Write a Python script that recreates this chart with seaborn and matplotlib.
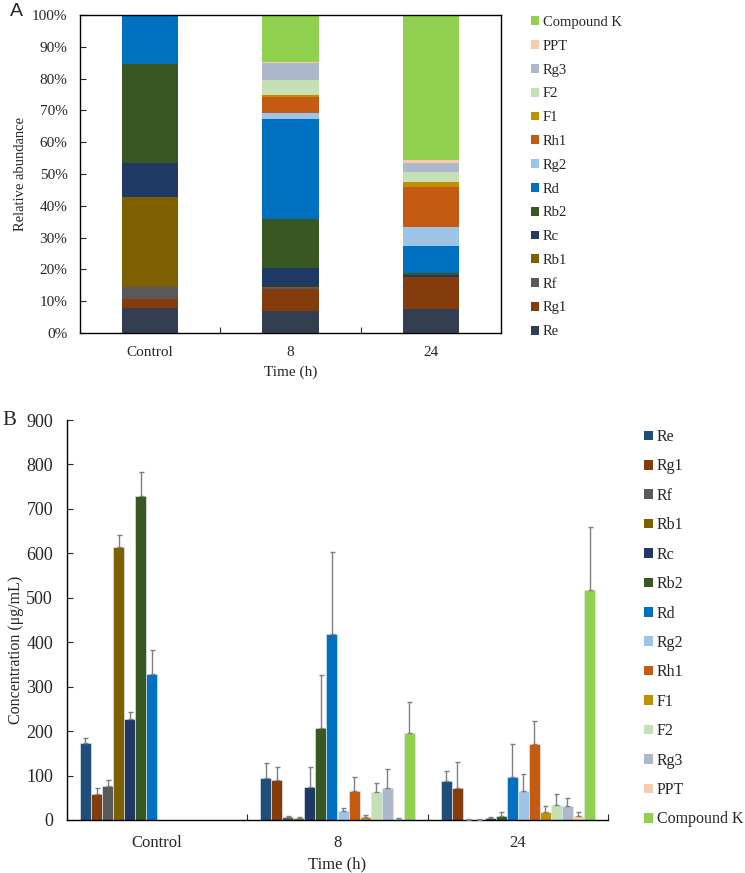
import numpy as np
import pandas as pd
import matplotlib
matplotlib.use("Agg")
import matplotlib.pyplot as plt
import seaborn as sns
from matplotlib.patches import Patch

# ---------------- data ----------------
times = ["Control", "8", "24"]
compounds = ["Re", "Rg1", "Rf", "Rb1", "Rc", "Rb2", "Rd", "Rg2", "Rh1",
             "F1", "F2", "Rg3", "PPT", "Compound K"]

# Panel A: relative abundance (%)
abund_control = [7.9, 2.9, 3.6, 28.5, 10.6, 31.2, 15.3, 0, 0, 0, 0, 0, 0, 0]
abund_8h = [7.0, 6.8, 0.4, 0.3, 5.8, 15.7, 31.3, 1.8, 5.0, 0.6, 4.8, 5.5, 0.2, 14.8]
abund_24h = [7.5, 10.0, 0.1, 0.1, 0.5, 0.8, 8.4, 5.8, 12.6, 1.7, 3.1, 2.8, 1.1, 45.5]

# Panel B: concentration (ug/mL) and SD
conc_control = [174, 59, 77, 614, 227, 729, 328, 0, 0, 0, 0, 0, 0, 0]
err_control = [11, 12, 13, 27, 17, 55, 54, 0, 0, 0, 0, 0, 0, 0]
conc_8h = [95, 90, 6, 4, 75, 208, 418, 20, 65, 7, 64, 71, 3, 195]
err_8h = [33, 30, 3, 2, 45, 118, 184, 8, 31, 4, 19, 43, 1, 70]
conc_24h = [87, 71, 1, 1, 4, 9, 96, 65, 171, 19, 34, 32, 9, 517]
err_24h = [24, 59, 0.5, 0.5, 2, 10, 74, 39, 52, 12, 24, 17, 10, 143]

colors_A = ["#333F50", "#843C0C", "#595959", "#7F6000", "#203864", "#385723",
            "#0070C0", "#9DC3E6", "#C55A11", "#BF9000", "#C5E0B4", "#ADB9CA",
            "#F8CBAD", "#92D050"]
colors_B = ["#1F4E79"] + colors_A[1:]

# ---------------- style ----------------
sns.set_style("ticks")
plt.rcParams["font.family"] = ["Liberation Serif", "DejaVu Serif"]
plt.rcParams["axes.linewidth"] = 1.0

W, H = 745, 873
fig = plt.figure(figsize=(W / 100, H / 100), dpi=100)

def fx(px):
    return px / W

def fy(py):
    return 1 - py / H

# ---------------- Panel A ----------------
axA = fig.add_axes([fx(80), fy(333), fx(501) - fx(80), fy(15) - fy(333)])
abund = {"Control": abund_control, "8": abund_8h, "24": abund_24h}
rowsA = []
for t in times:
    cum = np.cumsum(abund[t])
    for c, v in zip(compounds, cum):
        rowsA.append({"time": t, "compound": c, "cum": v})
dfA = pd.DataFrame(rowsA)
for i in range(len(compounds) - 1, -1, -1):
    c = compounds[i]
    sns.barplot(data=dfA[dfA["compound"] == c], x="time", y="cum", order=times,
                color=colors_A[i], saturation=1, width=0.4, errorbar=None,
                linewidth=0, ax=axA)
axA.set_xlim(-0.5, 2.5)
axA.set_ylim(0, 100)
axA.set_yticks(np.arange(0, 101, 10))
axA.set_yticklabels([f"{v}%" for v in range(0, 101, 10)], fontsize=11)
axA.set_xticks([0.5, 1.5])
axA.set_xticklabels([])
axA.set_xticks([0, 1, 2], minor=True)
axA.set_xticklabels(times, minor=True, fontsize=11)
axA.tick_params(axis="x", which="major", direction="in", length=4)
axA.tick_params(axis="x", which="minor", length=0, pad=9)
axA.tick_params(axis="y", direction="in", length=4, pad=9)
axA.set_xlabel("Time (h)", fontsize=11, labelpad=5)
axA.set_ylabel("Relative abundance", fontsize=10.5, labelpad=4)
axA.yaxis.set_label_coords(-0.125, 0.5)
for s in axA.spines.values():
    s.set_visible(True)
    s.set_color("black")

handlesA = [Patch(facecolor=colors_A[i], edgecolor="none") for i in range(len(compounds))][::-1]
fig.legend(handlesA, compounds[::-1], loc="upper left",
           bbox_to_anchor=(fx(531), fy(16)), frameon=False, fontsize=10.5,
           handlelength=0.55, handleheight=0.55, handletextpad=0.25,
           labelspacing=0.74, borderaxespad=0, borderpad=0)

fig.text(fx(10), fy(11), "A", fontsize=14, family="Liberation Sans", va="center")

# ---------------- Panel B ----------------
axB = fig.add_axes([fx(67), fy(820), fx(608) - fx(67), fy(420) - fy(820)])
conc = {"Control": conc_control, "8": conc_8h, "24": conc_24h}
errs = {"Control": err_control, "8": err_8h, "24": err_24h}
rowsB = []
for t in times:
    for c, v, e in zip(compounds, conc[t], errs[t]):
        rowsB.append({"time": t, "compound": c, "value": v, "err": e})
dfB = pd.DataFrame(rowsB)
sns.barplot(data=dfB, x="time", y="value", hue="compound", order=times,
            hue_order=compounds, palette=colors_B, saturation=1, width=0.856,
            errorbar=None, edgecolor="#DDE6EE", linewidth=0.5, legend=False, ax=axB)

bar_containers = list(axB.containers)
for ci, cont in enumerate(bar_containers):
    comp = compounds[ci]
    for bar, t in zip(cont, times):
        sub = dfB[(dfB["time"] == t) & (dfB["compound"] == comp)]
        v = float(sub["value"].iloc[0])
        e = float(sub["err"].iloc[0])
        if v <= 0:
            continue
        xc = bar.get_x() + bar.get_width() / 2
        axB.errorbar(xc, v, yerr=[[0], [e]], fmt="none", ecolor="#7F7F7F",
                     elinewidth=1.0, capsize=1.8, capthick=1.0, zorder=3)

axB.set_xlim(-0.5, 2.5)
axB.set_ylim(0, 900)
axB.set_yticks(np.arange(0, 901, 100))
axB.set_yticklabels([str(v) for v in range(0, 901, 100)], fontsize=13)
axB.set_xticks([-0.5, 0.5, 1.5, 2.5])
axB.set_xticklabels([])
axB.set_xticks([0, 1, 2], minor=True)
axB.set_xticklabels(times, minor=True, fontsize=12)
axB.tick_params(axis="x", which="major", direction="in", length=4)
axB.tick_params(axis="x", which="minor", length=0, pad=11)
axB.tick_params(axis="y", direction="in", length=4, pad=10)
axB.set_xlabel("Time (h)", fontsize=12, labelpad=4)
axB.set_ylabel("Concentration (μg/mL)", fontsize=11.5)
axB.yaxis.set_label_coords(-0.08, 0.425)
sns.despine(ax=axB)
axB.spines["left"].set_color("black")
axB.spines["bottom"].set_color("black")

handlesB = [Patch(facecolor=colors_B[i], edgecolor="none") for i in range(len(compounds))]
fig.legend(handlesB, compounds, loc="upper left",
           bbox_to_anchor=(fx(644), fy(429)), frameon=False, fontsize=11.5,
           handlelength=0.55, handleheight=0.55, handletextpad=0.25,
           labelspacing=0.84, borderaxespad=0, borderpad=0)

fig.text(fx(2), fy(420), "B", fontsize=15, va="center")

fig.savefig("out.png", dpi=100)
